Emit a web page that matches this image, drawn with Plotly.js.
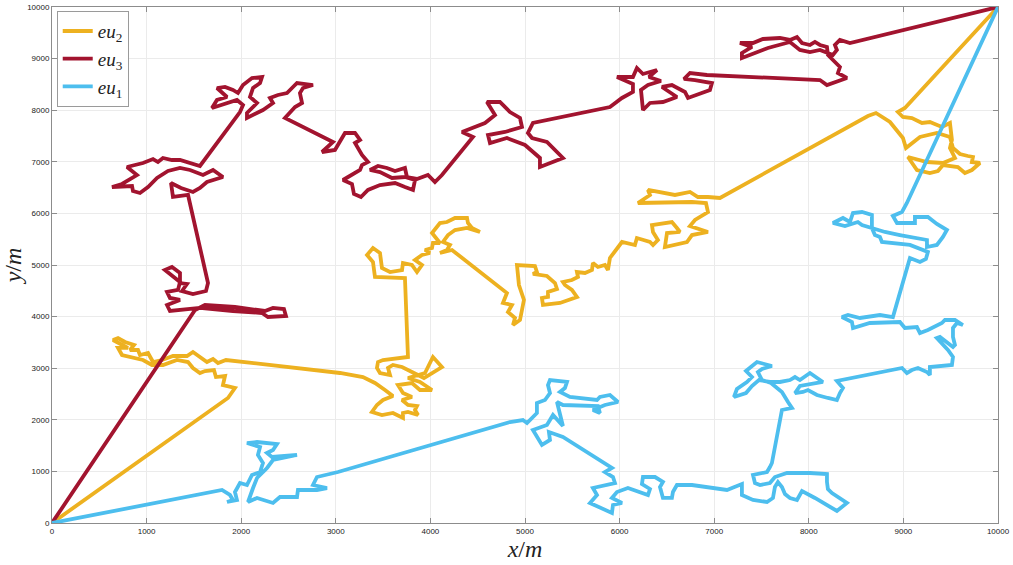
<!DOCTYPE html>
<html>
<head>
<meta charset="utf-8">
<script src="https://cdn.plot.ly/plotly-3.0.1.min.js"></script>
<style>html,body{margin:0;padding:0;background:#fff;}#chart{width:1013px;height:565px;}</style>
</head>
<body>
<div id="chart"></div>
<script>
var tickVals = [0,1000,2000,3000,4000,5000,6000,7000,8000,9000,10000];
var tickText = ["0","1000","2000","3000","4000","5000","6000","7000","8000","9000","10000"];
var seriesNames = ["<i>eu</i><sub>2</sub>", "<i>eu</i><sub>3</sub>", "<i>eu</i><sub>1</sub>"];

var eu2X = [0,1860,1934,1807,1829,1733,1712,1617,1564,1490,
1438,1321,1173,1057,962,740,698,803,645,698,
772,867,824,909,930,1015,1068,1163,1279,1427,
1490,1564,1638,1702,1755,1839,3044,3287,3414,3520,
3604,3499,3435,3382,3488,3604,3710,3710,3763,3869,
3837,3858,3763,3700,3805,3710,3657,3805,3890,4017,
3890,3763,3890,3943,3995,4027,4122,4017,3932,3805,
3700,3604,3552,3573,3467,3435,3446,3499,3763,3731,
3414,3393,3330,3393,3467,3488,3573,3700,3710,3805,
3858,3911,3837,3911,3995,3943,4017,4027,4101,4017,
4101,4175,4260,4387,4397,4439,4524,4387,4260,4186,
4133,4207,4175,4101,4228,4809,4767,4862,4820,4894,
4873,4947,4968,4989,4936,4915,5105,5126,5084,5232,
5317,5338,5243,5243,5179,5190,5370,5549,5496,5422,
5401,5496,5560,5549,5634,5708,5718,5771,5845,5877,
5898,6025,6162,6183,6321,6353,6405,6353,6342,6458,
6553,6606,6638,6501,6479,6712,6765,6934,6744,6797,
6934,6913,6765,6194,6321,6300,6585,6744,6828,6934,
7061,8625,8710,8858,8995,9027,9175,9354,9492,9524,
9598,9682,9735,9724,9809,9724,9650,9576,9418,9365,
9280,9143,9048,9249,9418,9545,9492,9513,9492,9407,
9280,9196,9090,8995,8942,9016,10000];
var eu2Y = [0,2423,2616,2674,2849,2829,2965,2946,2907,3004,
3120,3159,3062,3062,3159,3256,3392,3392,3547,3585,
3508,3450,3353,3353,3256,3295,3120,3159,3236,3236,
3314,3217,3120,3178,3101,3159,2907,2829,2713,2578,
2461,2384,2287,2151,2093,2132,2035,2132,2151,2093,
2190,2267,2287,2384,2442,2519,2674,2713,2578,2578,
2733,2810,2868,2907,3101,3217,3023,2907,2810,2926,
3023,3062,3004,2868,2907,3004,3120,3159,3217,4748,
4767,5058,5194,5330,5233,4942,4864,4903,5039,5000,
4864,5000,5097,5194,5233,5291,5330,5426,5426,5620,
5814,5833,5911,5911,5814,5717,5640,5717,5678,5581,
5446,5388,5291,5233,5291,4457,4264,4225,4089,3973,
3837,3934,4128,4322,4612,5000,4981,4864,4826,4787,
4651,4535,4477,4380,4361,4225,4264,4380,4516,4612,
4671,4709,4767,4864,4845,4903,5039,4961,5000,4903,
5136,5446,5388,5523,5446,5388,5485,5640,5775,5814,
5833,5717,5640,5620,5349,5446,5581,5640,5756,5872,
6027,6202,6221,6202,6357,6454,6357,6415,6318,6318,
6299,7888,7946,7771,7461,7268,7481,7558,7481,7268,
7151,7112,7093,6996,6977,6841,6783,6899,6938,6822,
6783,6841,7093,6996,6977,7074,7268,7423,7752,7674,
7771,7752,7849,7868,7965,8043,10000];

var eu3X = [0,1512,1617,1934,2251,2336,2452,2473,2283,2220,
1913,1723,1564,1247,1216,1353,1247,1216,1332,1353,
1268,1194,1268,1353,1353,1427,1374,1490,1628,1649,
1438,1279,1258,1364,1490,1564,1638,1807,1702,1596,
1459,1353,1226,1110,1015,930,856,846,634,740,
898,793,877,962,1068,1120,1173,1268,1353,1564,
1987,2019,1955,1860,1691,1744,1850,1744,1829,1913,
1966,2019,2114,2220,2199,2125,2093,2167,2061,2061,
2125,2230,2336,2304,2389,2484,2537,2590,2759,2653,
2621,2643,2569,2537,2463,2970,2854,2991,3097,3203,
3256,3203,3277,3340,3277,3256,3076,3171,3192,3266,
3340,3467,3626,3731,3816,3837,3731,3594,3467,3361,
3446,3541,3626,3731,3752,3858,3974,4048,4122,4450,
4334,4577,4683,4598,4735,4841,4947,4968,4788,4609,
4630,4809,5000,5158,5158,5401,5232,5074,5031,5084,
5898,6025,6141,6141,5972,6141,6183,6247,6395,6310,
6437,6300,6226,6247,6321,6458,6606,6448,6553,6691,
6723,6955,6976,6797,6680,6744,6923,8118,8192,8403,
8308,8329,8276,8202,8192,8118,8065,8012,7928,7875,
7801,7695,7515,7410,7272,7399,7293,7293,7568,7801,
7906,8012,8118,8255,8297,8276,8329,8435,10000];
var eu3Y = [0,4128,4225,4186,4109,4167,4147,4012,3992,4070,
4109,4147,4167,4109,4225,4322,4361,4477,4516,4671,
4787,4903,4961,4845,4651,4632,4496,4438,4496,4651,
6357,6318,6589,6492,6415,6492,6609,6705,6841,6744,
6841,6880,6822,6686,6512,6395,6434,6531,6512,6570,
6744,6899,6938,6977,7054,6996,7074,7035,7035,6919,
7965,8101,8198,8140,8043,8198,8256,8430,8450,8392,
8333,8488,8624,8643,8527,8430,8256,8140,7946,7849,
7907,8004,8140,8237,8295,8333,8430,8527,8488,8430,
8333,8140,8062,8004,7849,7384,7190,7229,7558,7558,
7423,7364,7132,6996,6938,6841,6647,6570,6376,6318,
6454,6550,6589,6512,6454,6647,6705,6686,6802,6841,
6919,6880,6822,6880,6705,6667,6744,6609,6744,7481,
7578,7752,7907,8159,8159,7965,7849,7674,7578,7519,
7364,7461,7326,7074,6899,7074,7384,7461,7558,7752,
8062,8237,8353,8508,8643,8643,8818,8702,8779,8643,
8566,8488,8392,8004,8140,8159,8256,8450,8488,8353,
8237,8392,8527,8585,8605,8721,8682,8585,8488,8624,
8721,8837,8934,9070,9225,9264,9322,9264,9302,9419,
9361,9399,9380,9302,9302,9225,9109,9012,9206,9322,
9167,9128,9167,9070,9167,9264,9361,9302,10000];

var eu1X = [0,1797,1881,1913,1850,1955,1934,1987,2061,2114,
2199,2230,2177,2199,2061,2167,2378,2336,2273,2325,
2590,2442,2336,2273,2167,2125,2072,2167,2336,2410,
2590,2600,2801,2907,2759,2801,3023,4841,4978,5021,
5126,5126,5211,5264,5243,5264,5444,5422,5370,5475,
5761,5792,5898,5983,5845,5718,5792,5771,5401,5338,
5370,5401,5296,5232,5084,5179,5264,5253,5401,5919,
5845,5930,5951,5792,5718,5761,5687,5919,5930,6025,
5919,5972,6088,6300,6321,6236,6247,6374,6458,6427,
6458,6553,6564,6606,6765,7135,7293,7293,7410,7558,
7621,7642,7674,7716,7748,7801,7875,7928,8065,8297,
8403,8245,8202,8192,8192,8012,7769,7642,7589,7484,
7431,7410,7558,7589,7610,7716,7822,7780,7748,7716,
7600,7505,7462,7505,7610,7452,7336,7399,7346,7240,
7209,7336,7399,7473,7589,7695,7801,7854,7906,8012,
8149,7906,7854,7938,7991,8086,8202,8297,8329,8361,
8297,8985,9037,9090,9154,9249,9280,9280,9513,9524,
9471,9354,9386,9524,9545,9524,9524,9566,9629,9545,
9439,9407,9259,9175,9143,9016,8963,8646,8467,8456,
8350,8414,8541,8752,8889,9069,9175,9238,9259,9069,
8773,8752,8699,8667,8667,8562,8467,8435,8361,8255,
8382,8519,8562,8805,8963,9249,9249,9354,9418,9460,
9354,9259,9122,9122,8932,8889,8985,9037,10000];
var eu1Y = [0,640,543,446,407,446,601,775,736,930,
988,1163,1318,1473,1550,1570,1531,1415,1357,1279,
1318,1260,1221,1066,872,678,407,485,388,504,
504,640,640,678,736,891,988,1957,1996,1938,
2132,2326,2384,2519,2674,2771,2733,2616,2539,2442,
2384,2442,2481,2345,2287,2190,2132,2267,2287,2345,
2132,1880,2093,1899,1802,1512,1609,1764,1667,1066,
988,891,775,698,678,543,388,194,349,388,
485,601,678,543,659,756,891,891,795,698,
485,485,601,736,736,640,756,543,446,407,
485,698,795,698,562,485,446,620,485,233,
388,581,659,795,950,969,969,891,775,736,
775,930,988,1085,1163,2190,2229,2345,2442,2539,
2713,2771,2926,2985,3043,3120,2946,2829,2733,2597,
2442,2519,2655,2771,2733,2733,2771,2829,2771,2907,
2733,2655,2519,2539,2578,2481,2423,2384,2519,2616,
2752,3004,2907,2965,3004,2926,2868,3023,3062,3217,
3353,3585,3605,3411,3450,3605,3779,3876,3837,3934,
3934,3876,3740,3682,3798,3779,3895,3876,3779,3895,
3992,4031,3973,4031,3992,5136,5058,5116,5252,5388,
5446,5543,5581,5717,5969,6027,6008,5833,5911,5814,
5756,5833,5775,5640,5581,5485,5349,5388,5543,5678,
5795,5930,5930,5814,5814,5950,6027,6202,10000];

var colors = ["#EDB120", "#A2142F", "#4DBEEE"];
var lw = 3.8;

var traces = [
  {x: eu2X, y: eu2Y, name: seriesNames[0], type: "scatter", mode: "lines", line: {color: colors[0], width: lw}},
  {x: eu3X, y: eu3Y, name: seriesNames[1], type: "scatter", mode: "lines", line: {color: colors[1], width: lw}},
  {x: eu1X, y: eu1Y, name: seriesNames[2], type: "scatter", mode: "lines", line: {color: colors[2], width: lw}}
];

var axisCommon = {
  range: [0, 10000],
  tickvals: tickVals,
  ticktext: tickText,
  showgrid: true,
  gridcolor: "#ebebeb",
  gridwidth: 1,
  zeroline: false,
  showline: true,
  linecolor: "#8c8c8c",
  linewidth: 1,
  mirror: "allticks",
  ticks: "inside",
  ticklen: 5,
  tickcolor: "#8c8c8c",
  tickwidth: 1,
  tickfont: {family: "Liberation Sans, Arial, sans-serif", size: 8, color: "#222"},
  fixedrange: true
};

var layout = {
  width: 1013,
  height: 565,
  margin: {l: 52, r: 15, t: 7, b: 42},
  paper_bgcolor: "#ffffff",
  plot_bgcolor: "#ffffff",
  showlegend: true,
  xaxis: Object.assign({}, axisCommon, {
    title: {text: "<i>x</i>/<i>m</i>", font: {family: "Liberation Serif, DejaVu Serif, serif", size: 24, color: "#222"}, standoff: 4}
  }),
  yaxis: Object.assign({}, axisCommon, {
    title: {text: "<i>y</i>/<i>m</i>", font: {family: "Liberation Serif, DejaVu Serif, serif", size: 24, color: "#222"}, standoff: 8}
  }),
  legend: {
    x: 0.005, y: 0.992, xanchor: "left", yanchor: "top",
    bgcolor: "#ffffff", bordercolor: "#9a9a9a", borderwidth: 1,
    font: {family: "Liberation Serif, DejaVu Serif, serif", size: 19, color: "#222"},
    itemwidth: 30,
    tracegroupgap: 0
  }
};

Plotly.newPlot("chart", traces, layout, {staticPlot: true, displayModeBar: false});
</script>
</body>
</html>
